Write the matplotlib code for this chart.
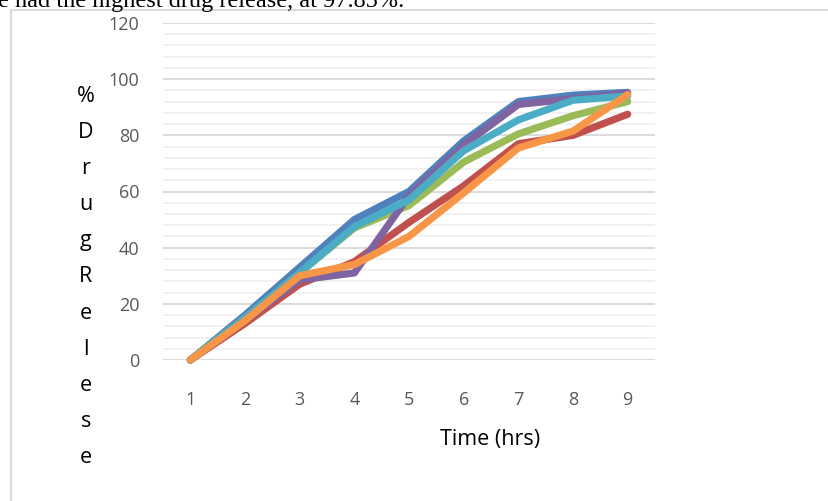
import matplotlib
matplotlib.use("Agg")
import matplotlib.pyplot as plt
from matplotlib.patches import Rectangle
from matplotlib.ticker import MultipleLocator

# Release profile: hours vs cumulative % drug released, six formulations
hours = [1, 2, 3, 4, 5, 6, 7, 8, 9]
f1 = [0, 16, 33, 50, 60, 78, 92, 94.3, 95.3]
f2 = [0, 13, 27, 35, 49, 62, 77, 80, 87.5]
f3 = [0, 15, 31, 47, 55, 70.5, 80.5, 87, 92]
f4 = [0, 14, 28.5, 31, 58.5, 76.5, 91, 93, 95]
f5 = [0, 15, 31, 47.5, 57, 74.5, 85.5, 92.5, 94]
f6 = [0, 14, 30, 34, 44, 59.5, 75.5, 81.5, 94.5]
series = [f1, f2, f3, f4, f5, f6]
colors = ["#4F81BD", "#C0504D", "#9BBB59", "#8064A2", "#4BACC6", "#F79646"]

y_ticks = [0, 20, 40, 60, 80, 100, 120]

fig = plt.figure(figsize=(8.29, 5.01), dpi=100)
fig.patch.set_facecolor("white")

# chart frame
fig.patches.append(Rectangle((11 / 829, -0.1), 1.2, 1 - 10 / 501 + 0.1,
                             transform=fig.transFigure, fill=False,
                             edgecolor="#d9d9d9", linewidth=1.5))

# surrounding document text
fig.text(-0.003, 1 - 7 / 501, "e had the highest drug release, at 97.85%.",
         family="Liberation Serif", fontsize=17.5, va="baseline", ha="left",
         color="black")

ax = fig.add_axes([163 / 829, 1 - 360 / 501, (655 - 163) / 829, (360 - 23) / 501])
ax.set_xlim(0.5, 9.5)
ax.set_ylim(0, 120)
ax.set_yticks(y_ticks)
ax.yaxis.set_minor_locator(MultipleLocator(4))
ax.set_xticks(hours)
ax.grid(which="major", axis="y", color="#d9d9d9", linewidth=1.3)
ax.grid(which="minor", axis="y", color="#f0f0f0", linewidth=1.3)
ax.set_axisbelow(True)
for s in ax.spines.values():
    s.set_visible(False)
ax.tick_params(which="both", length=0)
ax.tick_params(axis="y", pad=17, labelcolor="#595959", labelsize=13)
ax.tick_params(axis="x", pad=22, labelcolor="#595959", labelsize=13)
for lab in ax.get_xticklabels() + ax.get_yticklabels():
    lab.set_family("Open Sans")

for vals, c in zip(series, colors):
    ax.plot(hours, vals, color=c, linewidth=5.2, solid_capstyle="round",
            solid_joinstyle="round", clip_on=False)

fig.text(490 / 829, 1 - 440 / 501, "Time (hrs)", family="Open Sans",
         fontsize=15.5, ha="center", va="center", color="black")
fig.text(86 / 829, 1 - 277 / 501, "\n".join("%DrugRelese"),
         family="Open Sans", fontsize=15.5, ha="center", va="center",
         linespacing=1.95, color="black")

fig.savefig("out.png", dpi=100, facecolor="white")
